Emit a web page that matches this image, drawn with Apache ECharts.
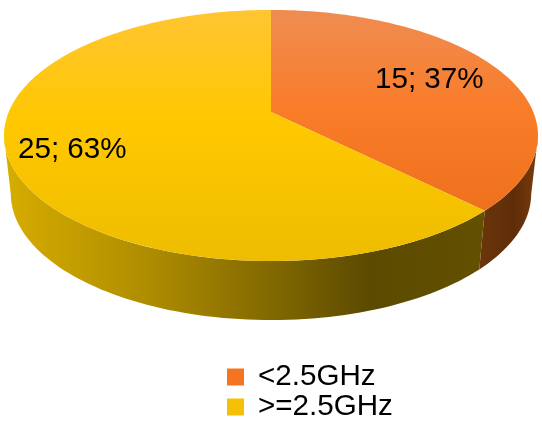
<!DOCTYPE html>
<html>
<head>
<meta charset="utf-8">
<style>html,body{margin:0;padding:0;background:#fff}#c{width:542px;height:425px}</style>
<script src="https://cdn.jsdelivr.net/npm/echarts@6/dist/echarts.min.js"></script>
</head>
<body>
<div id="c"></div>
<script>
const categories = ['<2.5GHz', '>=2.5GHz'];
const values = [15, 25];
const sliceLabels = ['15; 37%', '25; 63%'];

const FONT = '"Liberation Sans", Arial, sans-serif';
const topDisc = { x: 271, y: 112, a: 262.3, b: 121.2, k: 0.187 };
const baseDisc = { x: 271, y: 170, a: 255.6, b: 122, k: 0.187 };
const labelAnchors = [[375, 80], [18, 150]];
const sideLimits = [[101, null], [null, 259]];

const gv = (x0, y0, x1, y1, stops) => new echarts.graphic.LinearGradient(
  x0, y0, x1, y1, stops.map(s => ({ offset: s[0], color: s[1] })), true);
const topFills = [
  gv(0, 10, 0, 261, [[0, '#f08c52'], [0.4, '#f97c28'], [1, '#e96b18']]),
  gv(0, 10, 0, 261, [[0, '#ffc532'], [0.45, '#ffc800'], [1, '#eebd00']])
];
const sideFills = [
  gv(480, 0, 538, 0, [[0, '#6b350a'], [0.6, '#5e2d08'], [1, '#7c3c0c']]),
  gv(8, 0, 484, 0, [[0, '#d6ac00'], [0.3, '#ae8c00'], [0.55, '#826900'], [0.76, '#5c4a00'], [1, '#635000']])
];
const legendColors = ['#f4741f', '#f4c106'];

const total = values.reduce((s, v) => s + v, 0);
function project(d, deg) {
  const t = deg * Math.PI / 180, u = Math.sin(t), v = -Math.cos(t), w = 1 - d.k * v;
  return [d.x + d.a * u / w, d.y + d.b * v / w];
}
function arc(d, from, to) {
  const out = [], n = Math.max(2, Math.ceil(Math.abs(to - from) / 1.5));
  for (let i = 0; i <= n; i++) out.push(project(d, from + (to - from) * i / n));
  return out;
}
function sliceRange(i) {
  const before = values.slice(0, i).reduce((s, v) => s + v, 0);
  return [before / total * 360, (before + values[i]) / total * 360];
}
function renderSlice(i) {
  const [a0, a1] = sliceRange(i);
  const s0 = sideLimits[i][0] === null ? a0 : sideLimits[i][0];
  const s1 = sideLimits[i][1] === null ? a1 : sideLimits[i][1];
  const side = arc(topDisc, s0, s1).concat(arc(baseDisc, s1, s0));
  const face = [[topDisc.x, topDisc.y]].concat(arc(topDisc, a0, a1));
  return {
    type: 'group',
    children: [
      { type: 'polygon', shape: { points: side }, style: { fill: sideFills[i] }, silent: true },
      { type: 'polygon', shape: { points: face }, style: { fill: topFills[i] }, silent: true },
      { type: 'text', x: labelAnchors[i][0], y: labelAnchors[i][1], silent: true,
        style: { text: sliceLabels[i], fill: '#000', font: '29.6px ' + FONT, textAlign: 'left', textVerticalAlign: 'middle' } }
    ]
  };
}

const chart = echarts.init(document.getElementById('c'), null, { renderer: 'canvas' });
chart.setOption({
  animation: false,
  backgroundColor: '#fff',
  legend: {
    orient: 'vertical', left: 227, top: 362, padding: 0, itemGap: 0,
    itemWidth: 17, itemHeight: 17, icon: 'rect', selectedMode: false,
    data: categories,
    textStyle: { color: '#000', fontFamily: FONT, fontSize: 29.6, padding: [6, 0, 0, 9] }
  },
  series: categories.map((name, i) => ({
    type: 'custom', name, coordinateSystem: 'none', silent: true,
    itemStyle: { color: legendColors[i] },
    data: [values[i]],
    renderItem: () => renderSlice(i)
  }))
});
</script>
</body>
</html>
